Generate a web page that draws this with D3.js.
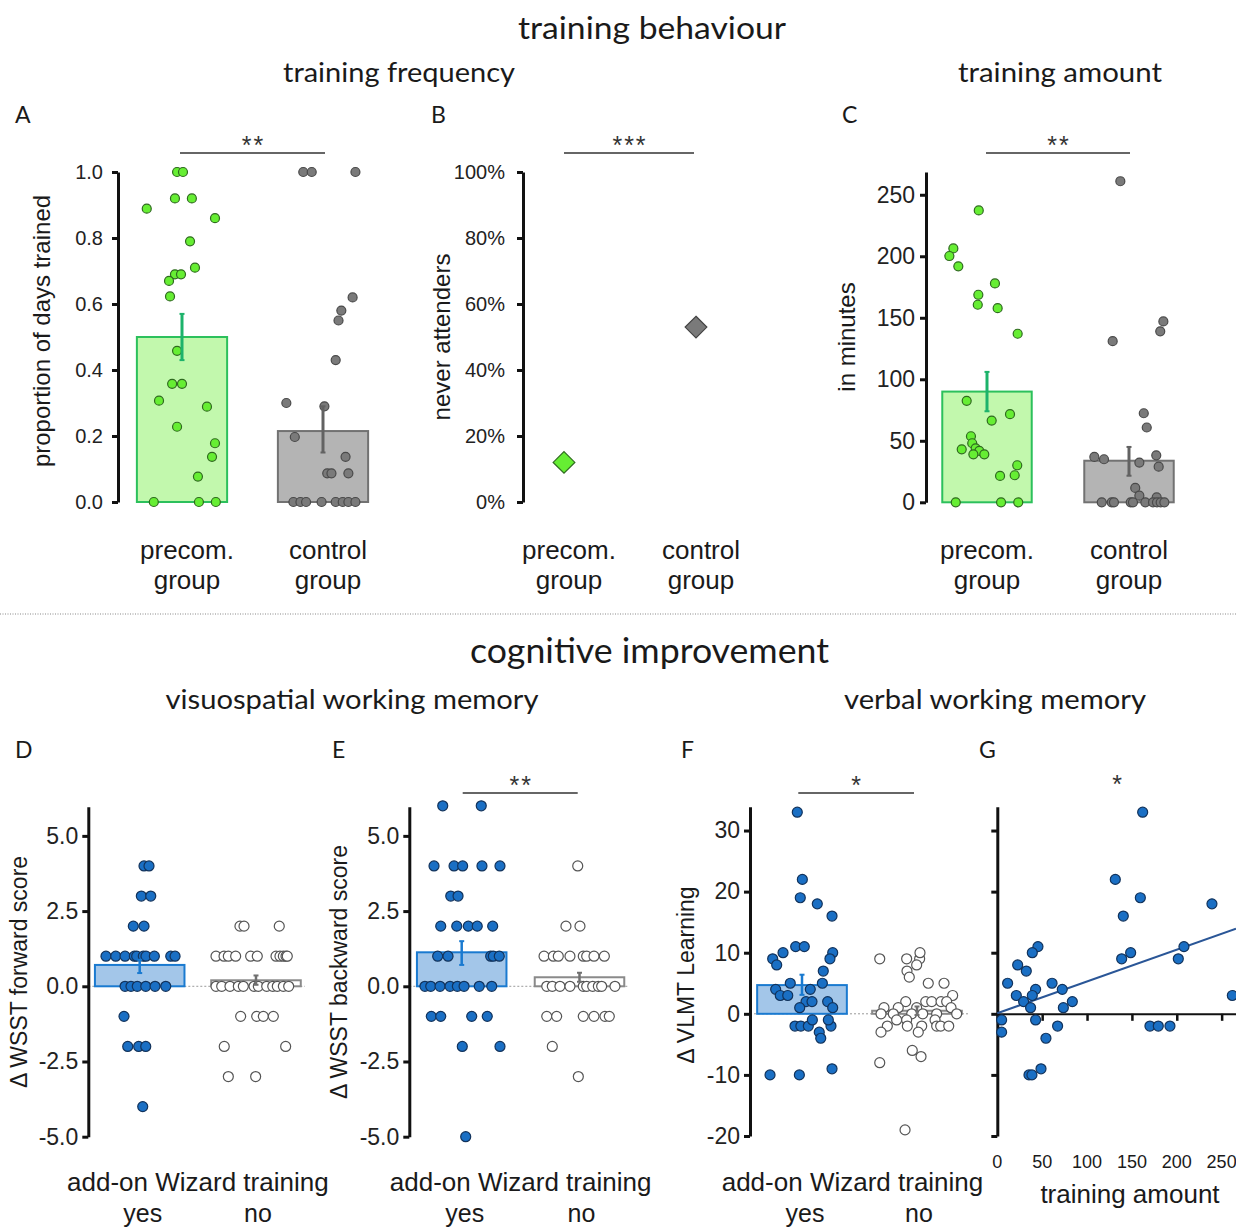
<!DOCTYPE html>
<html><head><meta charset="utf-8">
<script src="https://cdn.jsdelivr.net/npm/d3@7"></script>
<style>body{margin:0;background:#fff}svg{display:block}</style>
</head><body>
<svg id="c" width="1236" height="1228"></svg>
<script>
// ---------------- DATA ----------------
const topGroups = ["precom.", "control"];
const topGroupLine2 = "group";
const lowGroups = ["yes", "no"];
const lowAxisTitle = "add-on Wizard training";

// A: training frequency (proportion of days trained); points = [jitter, value]
const freqMeans = [0.50, 0.215];
const freqErr = [[0.43, 0.57], [0.15, 0.29]];
const freqPrecom = [[-0.25,0.889],[-0.035,1],[0.007,1],[-0.05,0.92],[0.07,0.92],[0.234,0.86],[0.057,0.79],[0.092,0.71],[-0.05,0.69],[-0.007,0.69],[-0.092,0.67],[-0.085,0.623],[-0.035,0.458],[-0.07,0.358],[0,0.358],[-0.163,0.307],[0.177,0.289],[-0.035,0.228],[0.234,0.178],[0.213,0.137],[0.113,0.077],[-0.2,0],[0.12,0],[0.24,0]];
const freqControl = [[-0.14,1],[-0.08,1],[0.23,1],[0.21,0.62],[0.13,0.58],[0.11,0.55],[0.09,0.43],[-0.26,0.30],[0.01,0.29],[-0.2,0.197],[0.16,0.137],[0.03,0.087],[0.06,0.087],[0.18,0.087],[-0.21,0],[-0.16,0],[-0.12,0],[-0.01,0],[0.09,0],[0.14,0],[0.18,0],[0.23,0]];
const freqTicks = [0, 0.2, 0.4, 0.6, 0.8, 1.0];

// B: never attenders (%)
const neverAttend = [12, 53];
const neverTicks = [0, 20, 40, 60, 80, 100];

// C: training amount (minutes)
const amountMeans = [90, 33.8];
const amountErr = [[74, 106], [21.6, 45]];
const amountPrecom = [[-0.058,237.3],[-0.237,206.4],[-0.265,200.2],[-0.202,191.8],[0.056,177.9],[-0.061,168.7],[-0.065,160.6],[0.075,157.8],[0.216,137],[-0.143,82.5],[0.162,71.6],[0.033,66.4],[-0.113,53.7],[-0.104,48],[-0.178,43.1],[-0.08,43.9],[-0.054,41.8],[-0.096,39],[-0.019,39],[0.213,30.1],[0.092,21.4],[0.195,22],[-0.22,0],[0.099,0],[0.22,0]];
const amountControl = [[-0.061,261],[0.242,147],[0.22,139],[-0.115,131],[0.104,72.4],[0.125,60.8],[-0.244,36.9],[-0.176,35],[0.192,38.2],[0.073,32.3],[0.209,29],[0.044,11.7],[0.073,5.4],[0.195,4],[-0.192,0],[-0.122,0],[-0.106,0],[0.012,0],[0.028,0],[0.115,0],[0.169,0],[0.197,0],[0.223,0],[0.249,0]];
const amountTicks = [0, 50, 100, 150, 200, 250];

// D: Δ WSST forward score
const fwdMeans = [0.71, 0.2];
const fwdErr = [[0.44, 0.88], [0.05, 0.36]];
const fwdYes = [[0.037,4],[0.08,4],[0.014,3],[0.095,3],[-0.055,2],[0.037,2],[-0.29,1],[-0.206,1],[-0.126,1],[-0.046,1],[-0.026,1],[0.031,1],[0.054,1],[0.126,1],[0.267,1],[0.304,1],[-0.126,0],[-0.075,0],[-0.021,0],[0.052,0],[0.132,0],[0.224,0],[-0.135,-1],[-0.103,-2],[-0.009,-2],[0.052,-2],[0.026,-4]];
const fwdNo = [[-0.138,2],[-0.103,2],[0.2,2],[-0.344,1],[-0.275,1],[-0.238,1],[-0.175,1],[-0.046,1],[0.011,1],[0.172,1],[0.206,1],[0.235,1],[0.258,1],[0.269,1],[-0.344,0],[-0.295,0],[-0.224,0],[-0.152,0],[-0.109,0],[-0.017,0],[0.02,0],[0.092,0],[0.144,0],[0.183,0],[0.235,0],[0.281,0],[-0.132,-1],[0.006,-1],[0.063,-1],[0.149,-1],[-0.273,-2],[0.255,-2],[-0.238,-3],[-0.003,-3]];
const wsstTicks = [-5, -2.5, 0, 2.5, 5];

// E: Δ WSST backward score
const bwdMeans = [1.13, 0.3];
const bwdErr = [[0.71, 1.5], [0.15, 0.45]];
const bwdYes = [[-0.161,6],[0.166,6],[-0.235,4],[-0.065,4],[0.008,4],[0.172,4],[0.325,4],[-0.093,3],[-0.031,3],[-0.178,2],[-0.042,2],[0.056,2],[0.132,2],[0.263,2],[-0.204,1],[-0.116,1],[0.246,1],[0.268,1],[0.319,1],[-0.312,0],[-0.263,0],[-0.184,0],[-0.099,0],[-0.037,0],[0.02,0],[0.149,0],[0.255,0],[-0.258,-1],[-0.178,-1],[0.085,-1],[0.217,-1],[0.005,-2],[0.325,-2],[0.034,-5]];
const bwdNo = [[-0.015,4],[-0.115,2],[0.004,2],[-0.301,1],[-0.222,1],[-0.18,1],[-0.081,1],[0.032,1],[0.061,1],[0.123,1],[0.211,1],[-0.278,0],[-0.231,0],[-0.166,0],[-0.081,0],[0.032,0],[0.061,0],[0.112,0],[0.16,0],[0.188,0],[0.301,0],[-0.278,-1],[-0.194,-1],[0.032,-1],[0.123,-1],[0.216,-1],[0.253,-1],[-0.231,-2],[-0.01,-3]];

// F: Δ VLMT Learning
const vlmtMeans = [4.7, 0.5];
const vlmtErr = [[3.1, 6.4], [-0.2, 1.2]];
const vlmtYes = [[-0.041,33],[0.003,22],[-0.015,19],[0.133,18],[0.261,16],[-0.055,11],[0.02,11],[0.267,10],[-0.165,10],[-0.255,9],[0.243,9],[-0.22,8],[0.185,7],[-0.102,5],[0.177,5],[-0.229,4],[0.072,4],[-0.189,3],[-0.124,3],[0.035,2],[0.087,2],[0.223,2],[-0.02,1],[0.267,1],[-0.061,-2],[-0.01,-2],[0.055,-2],[0.252,-2],[0.09,-1],[0.229,-1],[0.15,-3],[0.163,-4],[-0.278,-10],[-0.023,-10],[0.261,-9]];
const vlmtNo = [[-0.324,9],[-0.09,9],[0.023,9],[0.026,10],[-0.003,8],[-0.087,7],[-0.067,6],[0.098,5],[0.235,5],[0.31,3],[-0.098,2],[0.076,2],[0.128,2],[0.209,2],[0.258,2],[-0.287,1],[-0.163,1],[-0.003,1],[0.296,1],[-0.313,0],[-0.206,0],[-0.046,0],[0.05,0],[0.171,0],[0.345,0],[-0.177,-1],[0.157,-1],[-0.09,-1],[-0.258,-2],[-0.084,-2],[0.041,-2],[0.171,-2],[0.206,-2],[0.276,-2],[-0.313,-3],[0.011,-3],[-0.041,-6],[0.035,-7],[-0.324,-8],[-0.104,-19]];
const vlmtTicks = [-20, -10, 0, 10, 20, 30];

// G: training amount vs Δ VLMT Learning
const gPoints = [[162,33],[131.5,22],[159.4,19],[239.2,18],[140.4,16],[45.3,11],[39,10],[148.6,10],[208,11],[138.6,9],[201.7,9],[22.7,8],[32.3,7],[11.5,5],[61,5],[42.7,4],[72.4,4],[21.2,3],[39,3],[29.3,2],[83.6,2],[37.1,1],[73.6,1],[261.9,3],[4.8,-1],[42.7,-1],[4.8,-3],[67.2,-2],[54.2,-4],[170.1,-2],[179.4,-2],[192.4,-2],[35.3,-10],[38.6,-10],[48.7,-9]];
const gXTicks = [0, 50, 100, 150, 200, 250];
const gFit = [0.1, 0.052]; // intercept, slope

// ---------------- STYLE ----------------
const SANS = "'Liberation Sans', Arial, Helvetica, sans-serif";
const HEAD = "Lato, 'Open Sans', sans-serif";
const green = {dot:"#66ee33", dotStroke:"#2f6a1f", bar:"#c2f8ad", barStroke:"#2cc05c", err:"#1db36b"};
const gray  = {dot:"#7a7a7a", dotStroke:"#4a4a4a", bar:"#b4b4b4", barStroke:"#727272", err:"#626262"};
const blue  = {dot:"#1a6fc4", dotStroke:"#12335c", bar:"#a3c6e9", barStroke:"#1a7ad0", err:"#1a7ad0"};
const white = {dot:"#ffffff", dotStroke:"#555555", bar:"#ffffff", barStroke:"#8a8a8a", err:"#707070"};

const fmt1 = d => d.toFixed(1);
const fmtInt = d => String(d);

const svg = d3.select("#c");

function txt(x, y, s, size, fam, opts = {}) {
  const t = svg.append("text").attr("x", x).attr("y", y).text(s)
    .attr("font-size", size).attr("font-family", fam)
    .attr("fill", opts.fill || "#1a1a1a")
    .attr("text-anchor", opts.anchor || "middle");
  if (opts.len) t.attr("textLength", opts.len).attr("lengthAdjust", "spacingAndGlyphs");
  if (opts.rot) t.attr("transform", `rotate(-90,${x},${y})`);
  if (opts.ls) t.attr("letter-spacing", opts.ls);
  return t;
}

function styleAxis(ag, fontSize) {
  ag.select(".domain").attr("stroke", "#111").attr("stroke-width", 3);
  ag.selectAll(".tick line").attr("stroke", "#111").attr("stroke-width", 3);
  ag.selectAll(".tick text").attr("font-family", SANS).attr("font-size", fontSize).attr("fill", "#222");
}

function sig(x1, x2, y, stars) {
  svg.append("line").attr("x1", x1).attr("x2", x2).attr("y1", y).attr("y2", y)
    .attr("stroke", "#333").attr("stroke-width", 1.5);
  txt((x1 + x2) / 2 + 1, y + 1, stars, 25, SANS, {ls: 2, fill: "#333"});
}

function barPanel(o) {
  const g = svg.append("g");
  const x = d3.scaleLinear().domain([0, 1]).range(o.centers);
  const y = d3.scaleLinear().domain(o.yDomain).range(o.yRange);
  if (o.zeroLine) {
    g.append("line").attr("x1", o.axisX).attr("x2", x(1 + o.zeroLine)).attr("y1", y(0)).attr("y2", y(0))
      .attr("stroke", "#999").attr("stroke-width", 1).attr("stroke-dasharray", "2,2");
  }
  o.means.forEach((m, i) => {
    const st = o.styles[i];
    g.append("rect")
      .attr("x", x(i - o.barW / 2)).attr("width", x(i + o.barW / 2) - x(i - o.barW / 2))
      .attr("y", Math.min(y(m), y(0))).attr("height", Math.abs(y(0) - y(m)))
      .attr("fill", st.bar).attr("stroke", st.barStroke).attr("stroke-width", 2);
  });
  o.points.forEach((pts, i) => {
    const st = o.styles[i];
    g.selectAll(null).data(pts).join("circle")
      .attr("cx", d => x(i + d[0])).attr("cy", d => y(d[1])).attr("r", o.r)
      .attr("fill", st.dot).attr("stroke", st.dotStroke).attr("stroke-width", 1.2);
  });
  o.errs.forEach((e, i) => {
    const st = o.styles[i];
    const cx = x(i);
    g.append("line").attr("x1", cx).attr("x2", cx).attr("y1", y(e[0])).attr("y2", y(e[1]))
      .attr("stroke", st.err).attr("stroke-width", o.errW);
    [e[0], e[1]].forEach(v => g.append("line").attr("x1", cx - 2.5).attr("x2", cx + 2.5)
      .attr("y1", y(v)).attr("y2", y(v)).attr("stroke", st.err).attr("stroke-width", 2));
  });
  const ax = d3.axisLeft(y).tickValues(o.ticks).tickFormat(o.fmt).tickSize(6).tickSizeOuter(0).tickPadding(o.pad);
  const ag = g.append("g").attr("transform", `translate(${o.axisX},0)`).call(ax);
  styleAxis(ag, o.tickFont);
  return {x, y};
}

// ---------------- HEADINGS ----------------
txt(652, 39, "training behaviour", 31, HEAD, {len: 268});
txt(399, 82, "training frequency", 27, HEAD, {len: 232});
txt(1060, 82, "training amount", 27, HEAD, {len: 204});
txt(649.5, 663, "cognitive improvement", 34, HEAD, {len: 359});
txt(352, 709, "visuospatial working memory", 27, HEAD, {len: 373});
txt(995, 709, "verbal working memory", 27, HEAD, {len: 302});
[["A",15,123],["B",431,123],["C",842,123],["D",15,758],["E",332,758],["F",681,758],["G",979,758]]
  .forEach(d => txt(d[1], d[2], d[0], 23, HEAD, {anchor: "start"}));

svg.append("line").attr("x1", 0).attr("x2", 1236).attr("y1", 614).attr("y2", 614)
  .attr("stroke", "#888").attr("stroke-width", 1).attr("stroke-dasharray", "1,1.5");

// ---------------- PANEL A ----------------
const pA = barPanel({centers: [182, 323], yDomain: [0, 1], yRange: [502, 172], axisX: 118,
  means: freqMeans, errs: freqErr, points: [freqPrecom, freqControl], styles: [green, gray],
  barW: 0.64, r: 4.5, errW: 3, ticks: freqTicks, fmt: fmt1, pad: 9, tickFont: 20});
txt(50, 331, "proportion of days trained", 24, SANS, {rot: true});
sig(180, 325, 153, "**");

// ---------------- PANEL B ----------------
const xB = d3.scaleLinear().domain([0, 1]).range([564, 696]);
const yB = d3.scaleLinear().domain([0, 100]).range([502, 172]);
const gB = svg.append("g");
gB.selectAll(null).data(neverAttend).join("path")
  .attr("d", d3.symbol(d3.symbolDiamond2 || d3.symbolDiamond, 300)())
  .attr("transform", (d, i) => `translate(${xB(i)},${yB(d)})`)
  .attr("fill", (d, i) => [green.dot, gray.dot][i])
  .attr("stroke", (d, i) => [green.dotStroke, "#444"][i]).attr("stroke-width", 1.2);
const agB = gB.append("g").attr("transform", "translate(523,0)")
  .call(d3.axisLeft(yB).tickValues(neverTicks).tickFormat(d => d + "%").tickSize(6).tickSizeOuter(0).tickPadding(12));
styleAxis(agB, 20);
txt(450, 337, "never attenders", 24, SANS, {rot: true});
sig(564, 694, 153, "***");

// ---------------- PANEL C ----------------
const pC = barPanel({centers: [987, 1129], yDomain: [0, 268.5], yRange: [502.3, 172], axisX: 926,
  means: amountMeans, errs: amountErr, points: [amountPrecom, amountControl], styles: [green, gray],
  barW: 0.63, r: 4.5, errW: 3, ticks: amountTicks, fmt: fmtInt, pad: 5, tickFont: 23});
txt(855, 337, "in minutes", 24, SANS, {rot: true});
sig(986, 1130, 153, "**");

// top x labels
[[pA.x, 5], [xB, 5], [pC.x, 0]].forEach(([sx, off]) => {
  topGroups.forEach((gname, i) => {
    txt(sx(i) + off, 559, gname, 26, SANS);
    txt(sx(i) + off, 589, topGroupLine2, 26, SANS);
  });
});

// ---------------- PANEL D ----------------
const pD = barPanel({centers: [139.7, 256], yDomain: [-5, 5.97], yRange: [1136.7, 806.7], axisX: 88.3,
  means: fwdMeans, errs: fwdErr, points: [fwdYes, fwdNo], styles: [blue, white],
  barW: 0.77, r: 5, errW: 2.5, ticks: wsstTicks, fmt: fmt1, pad: 4, tickFont: 23, zeroLine: 0.42});
txt(27, 972, "Δ WSST forward score", 23, SANS, {rot: true});

// ---------------- PANEL E ----------------
const pE = barPanel({centers: [461.7, 579.5], yDomain: [-5, 5.97], yRange: [1136.7, 806.7], axisX: 409.3,
  means: bwdMeans, errs: bwdErr, points: [bwdYes, bwdNo], styles: [blue, white],
  barW: 0.76, r: 5, errW: 2.5, ticks: wsstTicks, fmt: fmt1, pad: 4, tickFont: 23, zeroLine: 0.42});
txt(347, 972, "Δ WSST backward score", 23, SANS, {rot: true});
sig(462.7, 577.7, 793, "**");

// ---------------- PANEL F ----------------
const pF = barPanel({centers: [802, 917], yDomain: [-20, 33.9], yRange: [1136, 806.7], axisX: 750,
  means: vlmtMeans, errs: vlmtErr, points: [vlmtYes, vlmtNo], styles: [blue, white],
  barW: 0.78, r: 5, errW: 2.5, ticks: vlmtTicks, fmt: fmtInt, pad: 4, tickFont: 23, zeroLine: 0.45});
txt(694, 975, "Δ VLMT Learning", 23, SANS, {rot: true});
sig(798.3, 914, 793, "*");

// lower x labels
[[pD.x, 0], [pE.x, 0], [pF.x, -7]].forEach(([sx, off]) => {
  txt((sx(0) + sx(1)) / 2 + off, 1191, lowAxisTitle, 26, SANS);
  lowGroups.forEach((gname, i) => txt(sx(i) + (i ? 2 : 3), 1222, gname, 25, SANS));
});

// ---------------- PANEL G ----------------
const gxs = d3.scaleLinear().domain([0, 266]).range([997.3, 1236]);
const gys = d3.scaleLinear().domain([-20, 33.9]).range([1136, 806.7]);
const gG = svg.append("g");
const agGy = gG.append("g").attr("transform", "translate(997.3,0)")
  .call(d3.axisLeft(gys).tickValues(vlmtTicks).tickFormat("").tickSize(6).tickSizeOuter(0));
styleAxis(agGy, 20);
const agGx = gG.append("g").attr("transform", `translate(0,${gys(0)})`)
  .call(d3.axisBottom(gxs).tickValues(gXTicks).tickFormat("").tickSize(7).tickSizeOuter(0));
agGx.select(".domain").attr("stroke", "#111").attr("stroke-width", 2);
agGx.selectAll(".tick line").attr("stroke", "#111").attr("stroke-width", 2.5);
gG.append("line").attr("x1", gxs(0)).attr("x2", gxs(266))
  .attr("y1", gys(gFit[0])).attr("y2", gys(gFit[0] + gFit[1] * 266))
  .attr("stroke", "#2a5697").attr("stroke-width", 2);
gG.selectAll(null).data(gPoints).join("circle")
  .attr("cx", d => gxs(d[0])).attr("cy", d => gys(d[1])).attr("r", 5)
  .attr("fill", blue.dot).attr("stroke", blue.dotStroke).attr("stroke-width", 1.2);
gXTicks.forEach(v => txt(gxs(v), 1168, String(v), 18, SANS));
txt(1130, 1203, "training amount", 26, SANS);
txt(1117, 793, "*", 25, SANS, {fill: "#333"});
</script>
</body></html>
